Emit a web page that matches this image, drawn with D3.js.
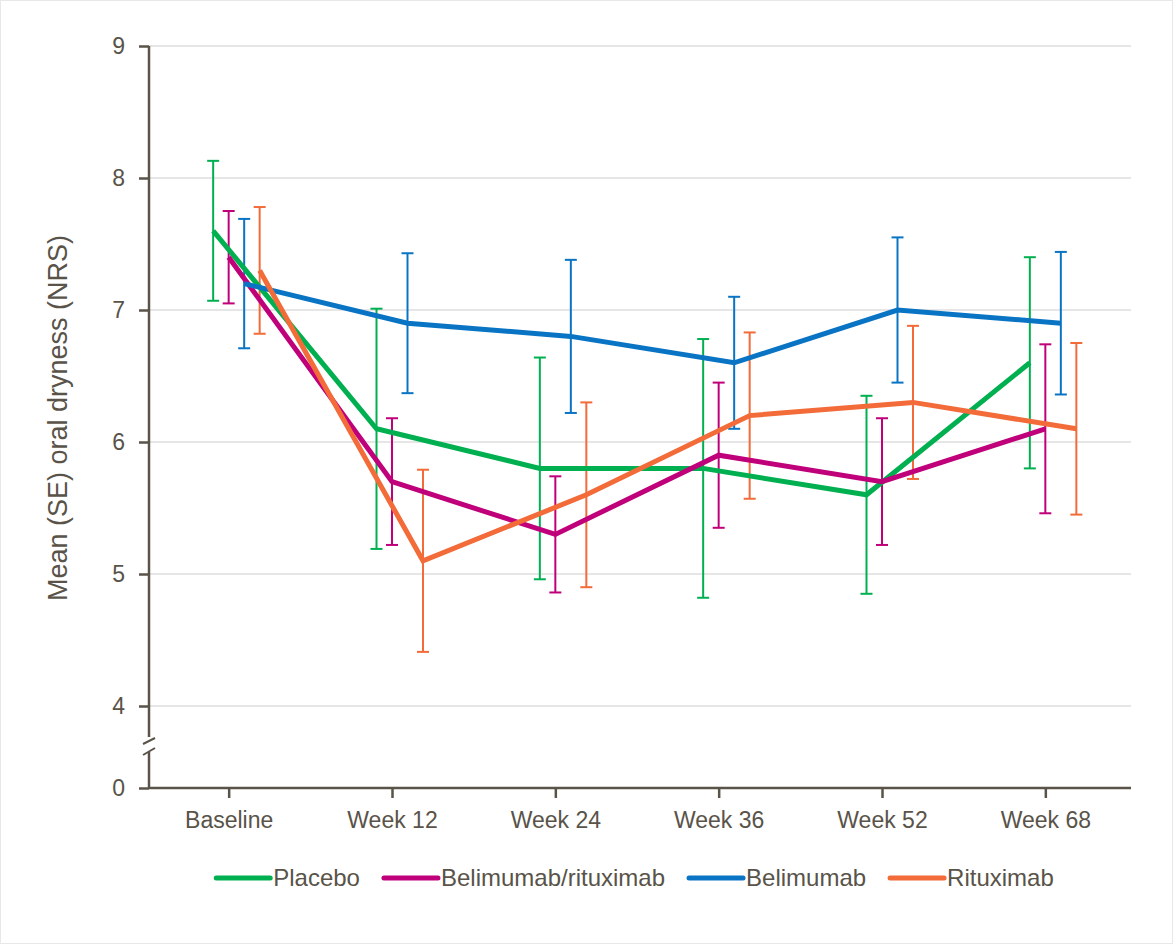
<!DOCTYPE html>
<head>
<style>
  body { margin: 0; background: #fff; }
  text { font-family: "Liberation Sans", Arial, sans-serif; fill: #595349; }
  .axis path, .axis line { stroke: #595349; stroke-width: 2.5; }
  .grid line { stroke: #e6e6e6; stroke-width: 2; }
</style>
</head>
<body>
<svg width="1173" height="944"></svg>
<script src="https://cdnjs.cloudflare.com/ajax/libs/d3/7.8.5/d3.min.js"></script>
<script>
var weeks = ["Baseline", "Week 12", "Week 24", "Week 36", "Week 52", "Week 68"];
var seriesNames = ["Placebo", "Belimumab/rituximab", "Belimumab", "Rituximab"];
var colors = ["#00b050", "#c0007a", "#0a74c4", "#f26b38"];
var yTicks = [0, 4, 5, 6, 7, 8, 9];

// means and standard errors
var placeboMean = [7.6, 6.1, 5.8, 5.8, 5.6, 6.6];
var placeboSE   = [0.53, 0.91, 0.84, 0.98, 0.75, 0.8];
var belRitMean  = [7.4, 5.7, 5.3, 5.9, 5.7, 6.1];
var belRitSE    = [0.35, 0.48, 0.44, 0.55, 0.48, 0.64];
var belMean     = [7.2, 6.9, 6.8, 6.6, 7.0, 6.9];
var belSE       = [0.49, 0.53, 0.58, 0.5, 0.55, 0.54];
var ritMean     = [7.3, 5.1, 5.6, 6.2, 6.3, 6.1];
var ritSE       = [0.48, 0.69, 0.7, 0.63, 0.58, 0.65];

var means = [placeboMean, belRitMean, belMean, ritMean];
var ses = [placeboSE, belRitSE, belSE, ritSE];

var series = seriesNames.map(function(name, i) {
  return {
    name: name,
    color: colors[i],
    values: weeks.map(function(w, j) {
      return {week: w, mean: means[i][j], se: ses[i][j]};
    })
  };
});

var svg = d3.select("svg");

svg.append("rect")
    .attr("x", 0.5).attr("y", 0.5)
    .attr("width", 1172).attr("height", 943)
    .attr("fill", "none").attr("stroke", "#e8e8e8");

var left = 149, right = 1131;

var x = d3.scaleBand().domain(weeks).range([147.5, 1127.5]);
var offset = d3.scalePoint().domain(seriesNames).range([-16, 30.5]);
// broken axis: 0 at the bottom, then 4..9
var y = d3.scaleLinear().domain([0, 4, 9]).range([788, 706, 46]);

function cx(w) { return x(w) + x.bandwidth() / 2; }

// gridlines
svg.append("g").attr("class", "grid")
  .selectAll("line")
  .data(yTicks.filter(function(t) { return t > 0; }))
  .enter().append("line")
    .attr("x1", left).attr("x2", right)
    .attr("y1", function(d) { return y(d); })
    .attr("y2", function(d) { return y(d); });

// y axis
var yAxis = svg.append("g").attr("class", "axis")
    .attr("transform", "translate(" + left + ",0)")
    .call(d3.axisLeft(y).tickValues(yTicks).tickSize(10).tickPadding(14));
yAxis.select(".domain").remove();
yAxis.selectAll("text").style("font-size", "23px");

var breakY = y(2);
yAxis.append("line").attr("x1", 0).attr("x2", 0).attr("y1", y(9)).attr("y2", breakY - 10);
yAxis.append("line").attr("x1", 0).attr("x2", 0).attr("y1", breakY + 5).attr("y2", y(0));
yAxis.append("line").attr("x1", -6).attr("x2", 6).attr("y1", breakY - 3).attr("y2", breakY - 9).style("stroke-width", 2);
yAxis.append("line").attr("x1", -6).attr("x2", 6).attr("y1", breakY + 8).attr("y2", breakY + 1).style("stroke-width", 2);

// x axis
var xAxis = svg.append("g").attr("class", "axis")
    .attr("transform", "translate(0," + y(0) + ")")
    .call(d3.axisBottom(x).tickSize(10).tickSizeOuter(0).tickPadding(14));
xAxis.select(".domain").attr("d", "M" + left + ",0H" + right);
xAxis.selectAll("text").style("font-size", "23px");

svg.append("text")
    .attr("transform", "translate(67,418) rotate(-90)")
    .attr("text-anchor", "middle")
    .style("font-size", "27px")
    .text("Mean (SE) oral dryness (NRS)");

// error bars
var bars = svg.selectAll(".err")
  .data(series)
  .enter().append("g")
    .attr("class", "err")
    .attr("stroke", function(d) { return d.color; })
    .attr("stroke-width", 2);

bars.each(function(s) {
  var g = d3.select(this);
  s.values.forEach(function(v) {
    var px = cx(v.week) + offset(s.name);
    var top = y(v.mean + v.se), bot = y(v.mean - v.se);
    g.append("line").attr("x1", px).attr("x2", px).attr("y1", top).attr("y2", bot);
    g.append("line").attr("x1", px - 6).attr("x2", px + 6).attr("y1", top).attr("y2", top);
    g.append("line").attr("x1", px - 6).attr("x2", px + 6).attr("y1", bot).attr("y2", bot);
  });
});

// mean lines
var line = d3.line()
    .x(function(d) { return d.px; })
    .y(function(d) { return y(d.mean); });

svg.selectAll(".series")
  .data(series)
  .enter().append("path")
    .attr("class", "series")
    .attr("fill", "none")
    .attr("stroke", function(d) { return d.color; })
    .attr("stroke-width", 5)
    .attr("d", function(s) {
      return line(s.values.map(function(v) {
        return {px: cx(v.week) + offset(s.name), mean: v.mean};
      }));
    });

// legend
var legend = svg.append("g").attr("transform", "translate(0,878)");
var items = legend.selectAll("g")
  .data(series)
  .enter().append("g");
items.append("line")
    .attr("x1", 0).attr("x2", 54)
    .attr("stroke", function(d) { return d.color; })
    .attr("stroke-width", 5)
    .attr("stroke-linecap", "round");
items.append("text")
    .attr("x", 57)
    .attr("dy", "0.35em")
    .style("font-size", "24px")
    .text(function(d) { return d.name; });

var widths = [];
items.each(function() { widths.push(57 + d3.select(this).select("text").node().getComputedTextLength()); });
var gap = 24;
var total = d3.sum(widths) + gap * (widths.length - 1);
var pos = 635 - total / 2;
items.attr("transform", function(d, i) {
  var t = "translate(" + pos + ",0)";
  pos += widths[i] + gap;
  return t;
});
</script>
</body>
</html>
